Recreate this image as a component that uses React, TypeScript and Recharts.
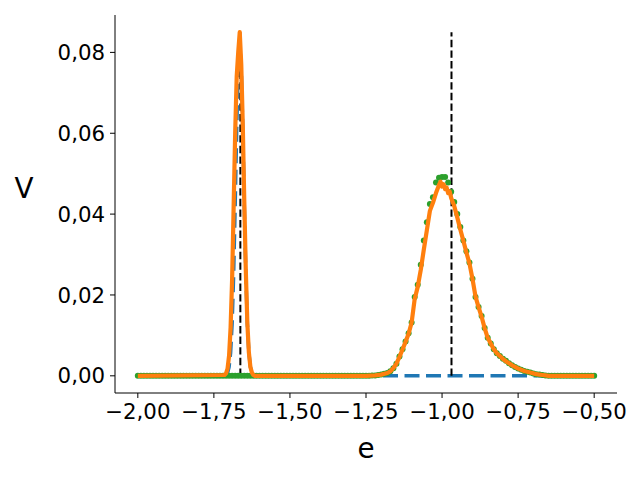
import { ComposedChart, Line, Scatter, XAxis, YAxis, ReferenceLine, Label } from 'recharts';

// narrow peak model (dashed blue)
const blueE = [
  -2.0, -1.715, -1.71, -1.705, -1.7, -1.695, -1.69, -1.685, -1.68, -1.675, -1.67, -1.665,
  -1.66, -1.655, -1.65, -1.645, -1.64, -1.635, -1.63, -1.625, -1.62, -1.615, -0.5,
];
const blueV = [
  0, 0, 0.0002, 0.0007, 0.0022, 0.0057, 0.0129, 0.0251, 0.0421, 0.061, 0.0762, 0.082,
  0.0762, 0.061, 0.0421, 0.0251, 0.0129, 0.0057, 0.0022, 0.0007, 0.0002, 0, 0,
];

// wide peak (green dots)
const greenE = [
  -2.0, -1.99, -1.98, -1.97, -1.96, -1.95, -1.94, -1.93, -1.92, -1.91,
  -1.9, -1.89, -1.88, -1.87, -1.86, -1.85, -1.84, -1.83, -1.82, -1.81,
  -1.8, -1.79, -1.78, -1.77, -1.76, -1.75, -1.74, -1.73, -1.72, -1.71,
  -1.7, -1.69, -1.68, -1.67, -1.66, -1.65, -1.64, -1.63, -1.62, -1.61,
  -1.6, -1.59, -1.58, -1.57, -1.56, -1.55, -1.54, -1.53, -1.52, -1.51,
  -1.5, -1.49, -1.48, -1.47, -1.46, -1.45, -1.44, -1.43, -1.42, -1.41,
  -1.4, -1.39, -1.38, -1.37, -1.36, -1.35, -1.34, -1.33, -1.32, -1.31,
  -1.3, -1.29, -1.28, -1.27, -1.26, -1.25, -1.24, -1.23, -1.22, -1.21,
  -1.2, -1.19, -1.18, -1.17, -1.16, -1.15, -1.14, -1.13, -1.12, -1.11,
  -1.1, -1.09, -1.08, -1.07, -1.06, -1.05, -1.04, -1.03, -1.02, -1.01,
  -1.0, -0.99, -0.98, -0.97, -0.96, -0.95, -0.94, -0.93, -0.92, -0.91,
  -0.9, -0.89, -0.88, -0.87, -0.86, -0.85, -0.84, -0.83, -0.82, -0.81,
  -0.8, -0.79, -0.78, -0.77, -0.76, -0.75, -0.74, -0.73, -0.72, -0.71,
  -0.7, -0.69, -0.68, -0.67, -0.66, -0.65, -0.64, -0.63, -0.62, -0.61,
  -0.6, -0.59, -0.58, -0.57, -0.56, -0.55, -0.54, -0.53, -0.52, -0.51,
  -0.5,
];
const greenV = [
  0, 0, 0, 0, 0, 0, 0, 0, 0, 0,
  0, 0, 0, 0, 0, 0, 0, 0, 0, 0,
  0, 0, 0, 0, 0, 0, 0, 0, 0, 0,
  0, 0, 0, 0, 0, 0, 0, 0, 0, 0,
  0, 0, 0, 0, 0, 0, 0, 0, 0, 0,
  0, 0, 0, 0, 0, 0, 0, 0, 0, 0,
  0, 0, 0, 0, 0, 0, 0, 0, 0, 0,
  0, 0, 0, 0, 0, 0, 0, 0.0001, 0.0001, 0.0002,
  0.0003, 0.0005, 0.0007, 0.0011, 0.0019, 0.003, 0.0048, 0.0066, 0.0085, 0.0105,
  0.0132, 0.0195, 0.0225, 0.0275, 0.0335, 0.038, 0.0425, 0.0442, 0.0478, 0.049,
  0.0492, 0.0492, 0.0478, 0.0455, 0.043, 0.04, 0.0368, 0.0335, 0.0308, 0.028,
  0.024, 0.0195, 0.017, 0.0148, 0.0118, 0.0094, 0.008, 0.0066, 0.0056, 0.0049,
  0.0042, 0.0037, 0.0031, 0.0026, 0.0022, 0.0018, 0.0015, 0.0012, 0.001, 0.0008,
  0.0006, 0.0004, 0.0003, 0.0002, 0.0001, 0, 0, 0, 0, 0,
  0, 0, 0, 0, 0, 0, 0, 0, 0, 0,
  0,
];

// measured total (orange)
const orangeE = [
  -2.0, -1.715, -1.71, -1.705, -1.7, -1.695, -1.69, -1.685, -1.68, -1.675, -1.67, -1.665,
  -1.66, -1.655, -1.65, -1.645, -1.64, -1.635, -1.63, -1.625, -1.62, -1.615,
  -1.25, -1.22, -1.2, -1.18, -1.17, -1.16, -1.15, -1.14, -1.13, -1.12, -1.11,
  -1.1, -1.09, -1.08, -1.07, -1.06, -1.05, -1.04, -1.03, -1.02, -1.01, -1.005,
  -1.0, -0.995, -0.99, -0.985, -0.98, -0.975, -0.97, -0.96, -0.95, -0.94, -0.93, -0.92, -0.91,
  -0.9, -0.89, -0.88, -0.87, -0.86, -0.85, -0.84, -0.83, -0.82, -0.81,
  -0.8, -0.79, -0.78, -0.77, -0.76, -0.75, -0.74, -0.73, -0.72, -0.71,
  -0.7, -0.69, -0.68, -0.67, -0.66, -0.65, -0.5,
];
const orangeV = [
  0, 0.0002, 0.0006, 0.0018, 0.005, 0.012, 0.024, 0.042, 0.06, 0.074, 0.08, 0.085,
  0.077, 0.062, 0.043, 0.026, 0.013, 0.0058, 0.0022, 0.0008, 0.0002, 0,
  0, 0.0001, 0.0003, 0.0007, 0.0011, 0.0019, 0.003, 0.0047, 0.0065, 0.0084, 0.0104,
  0.0132, 0.019, 0.022, 0.0262, 0.0312, 0.036, 0.0408, 0.0428, 0.0452, 0.0472, 0.048,
  0.0468, 0.0474, 0.0462, 0.0466, 0.0452, 0.0456, 0.044, 0.042, 0.0392, 0.0362, 0.0334, 0.0305, 0.0278,
  0.024, 0.0196, 0.017, 0.0146, 0.0118, 0.0094, 0.008, 0.0066, 0.0056, 0.0049,
  0.0042, 0.0036, 0.0031, 0.0026, 0.0022, 0.0018, 0.0015, 0.0012, 0.001, 0.0008,
  0.0006, 0.0004, 0.0003, 0.0002, 0.0001, 0, 0,
];

const markerE = [-1.663, -0.969];
const markerTop = 0.085;

const xTicks = [-2.0, -1.75, -1.5, -1.25, -1.0, -0.75, -0.5];
const yTicks = [0, 0.02, 0.04, 0.06, 0.08];

const toPoints = (es: number[], vs: number[]) => es.map((e, i) => ({ e, v: vs[i] }));

const blueData = toPoints(blueE, blueV);
const greenData = toPoints(greenE, greenV);
const orangeData = toPoints(orangeE, orangeV);

const FONT = 'DejaVu Sans';
const TICK_SIZE = 21.3;
const LABEL_SIZE = 27.8;

const fmt = (v: number) => (v < 0 ? '\u2212' : '') + Math.abs(v).toFixed(2).replace('.', ',');

const XTick = (props: any) => {
  const { x, y, payload } = props;
  return (
    <text x={x} y={y} dy={TICK_SIZE * 0.76} textAnchor="middle" fill="#000" fontSize={TICK_SIZE} fontFamily={FONT}>
      {fmt(payload.value)}
    </text>
  );
};

const YTick = (props: any) => {
  const { x, y, payload } = props;
  return (
    <text x={x} y={y} dy={TICK_SIZE * 0.36} textAnchor="end" fill="#000" fontSize={TICK_SIZE} fontFamily={FONT}>
      {fmt(payload.value)}
    </text>
  );
};

const GreenDot = (props: any) => {
  const { cx, cy } = props;
  if (cx == null || cy == null) return null;
  return <circle cx={cx} cy={cy} r={3} fill="#2ca02c" />;
};

const NoDot = () => <g />;

export default function App() {
  return (
    <div style={{ position: 'absolute', left: 0, top: 0, width: 640, height: 480, background: '#fff' }}>
      <ComposedChart width={640} height={480} margin={{ top: 15, right: 23, left: 0, bottom: 0 }}>
        <XAxis
          dataKey="e"
          type="number"
          domain={[-2.075, -0.425]}
          allowDataOverflow
          ticks={xTicks}
          height={87}
          tickSize={5}
          tickMargin={5}
          stroke="#000"
          tick={(p: any) => <XTick {...p} />}
        >
          <Label
            content={() => (
              <text x={366} y={458} textAnchor="middle" fill="#000" fontSize={LABEL_SIZE} fontFamily={FONT}>
                e
              </text>
            )}
          />
        </XAxis>
        <YAxis
          dataKey="v"
          type="number"
          domain={[-0.00425, 0.08925]}
          allowDataOverflow
          ticks={yTicks}
          width={115}
          tickSize={5}
          tickMargin={5}
          stroke="#000"
          tick={(p: any) => <YTick {...p} />}
        >
          <Label
            content={() => (
              <text x={24} y={198} textAnchor="middle" fill="#000" fontSize={LABEL_SIZE} fontFamily={FONT}>
                V
              </text>
            )}
          />
        </YAxis>
        <Line
          data={blueData}
          dataKey="v"
          type="linear"
          stroke="#1f77b4"
          strokeWidth={3.5}
          strokeDasharray="15 6.5"
          dot={false}
          activeDot={false}
          isAnimationActive={false}
        />
        <Scatter data={greenData} dataKey="v" shape={<GreenDot />} isAnimationActive={false} />
        <Scatter
          data={orangeData}
          dataKey="v"
          shape={<NoDot />}
          line={{ stroke: '#ff7f0e', strokeWidth: 4.2, strokeLinejoin: 'round', fill: 'none' }}
          lineType="joint"
          isAnimationActive={false}
        />
        {markerE.map((x) => (
          <ReferenceLine
            key={x}
            segment={[{ x, y: 0 }, { x, y: markerTop }]}
            stroke="#000"
            strokeWidth={2}
            strokeDasharray="7.4 3.2"
          />
        ))}
      </ComposedChart>
    </div>
  );
}
